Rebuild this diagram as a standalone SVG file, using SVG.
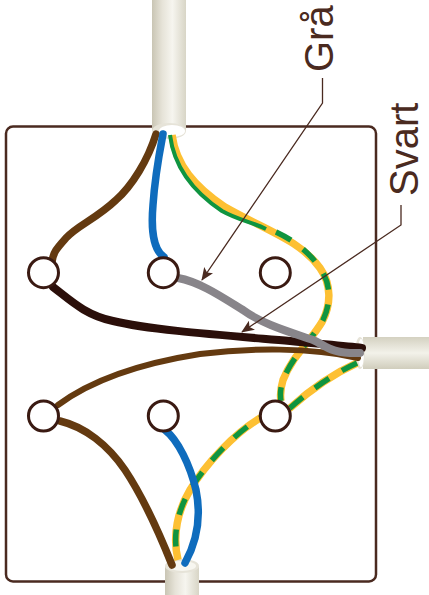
<svg xmlns="http://www.w3.org/2000/svg" width="429" height="595" viewBox="0 0 429 595">
<defs>
<linearGradient id="cv" x1="0" x2="1" y1="0" y2="0"><stop offset="0" stop-color="#c9c5b4"/><stop offset="0.3" stop-color="#e6e3d8"/><stop offset="0.6" stop-color="#f6f5ef"/><stop offset="1" stop-color="#d8d5c6"/></linearGradient>
<linearGradient id="ch" x1="0" x2="0" y1="0" y2="1"><stop offset="0" stop-color="#d4d1c1"/><stop offset="0.5" stop-color="#f3f2ea"/><stop offset="1" stop-color="#d0cdbc"/></linearGradient>
<marker id="arr" markerWidth="13" markerHeight="11" refX="12" refY="5.500" orient="auto" markerUnits="userSpaceOnUse"><path d="M0 0 L13 5.500 L0 11 L3 5.500 Z" fill="#4a2a20"/></marker>
</defs>
<style>
.w{fill:none;stroke-linejoin:round}
.r{stroke-linecap:round}
.b{stroke:#643a10;stroke-width:7.500}
.u{stroke:#0f6cbd;stroke-width:7.500}
.term{fill:#fff;stroke:#3a1a12;stroke-width:3}
.lbl{font-family:"Liberation Sans",Arial,sans-serif;font-size:40px;fill:#4a2a20}
.lead{fill:none;stroke:#4a2a20;stroke-width:1.300}
.y{stroke:#fdc033;stroke-width:7.500}
.g{stroke:#0f9440;stroke-width:5.500;stroke-dasharray:17 15}
.gs{stroke:#0f9440;stroke-width:4}
</style>
<rect id="box" x="6" y="126.500" width="370" height="455" rx="7" fill="#fff" stroke="#4a2a20" stroke-width="2.500"/>
<g id="cable-top"><path d="M152 0H186V131H152Z" fill="url(#cv)"/><ellipse cx="169" cy="131" rx="17" ry="8" fill="#e6e3d8"/><ellipse cx="172" cy="131" rx="13" ry="6" fill="#fff"/></g>
<g id="cable-right"><path d="M429 337H363V369H429Z" fill="url(#ch)"/><ellipse cx="360" cy="353" rx="5" ry="16" fill="#e6e3d8"/><ellipse cx="361" cy="353" rx="3" ry="14" fill="#fff"/></g>
<g id="cable-bottom"><path d="M165 566H199V595H165Z" fill="url(#cv)"/><ellipse cx="182" cy="566" rx="17" ry="7" fill="#e6e3d8"/><ellipse cx="182" cy="566" rx="14" ry="5" fill="#f7f6f0"/></g>
<g id="connectors">
<path class="w r b" d="M156 134C148 160 132 186 116 200C96 219 78 225 66 238C58 247 53 252 52 262"/>
<path class="w r u" d="M163 134C159 155 155 175 153 205C151 228 153 250 164 257"/>
<path class="w y" d="M172 135C176 165 195 187 225 207C265 230 300 240 320 268C332 285 331 305 322 322C310 342 293 355 283 380C280 390 280 395 281 401"/>
<path class="w gs" d="M170 135C174 167 192 191 222 211C238 220 252 222 266 229"/>
<path class="w g" d="M276 232C295 241 309 252 320 268C332 285 331 305 322 322C310 342 293 355 283 380C280 390 280 395 281 401"/>
<path class="w y" d="M357 363C335 373 310 390 290 408L262 417C235 432 205 465 190 490C178 510 172 535 178 560"/>
<path class="w g" d="M357 363C335 373 310 390 290 408L262 417C235 432 205 465 190 490C178 510 172 535 178 560"/>
<path class="w r u" d="M165 430C178 440 190 465 196 490C202 520 195 545 185 563"/>
<path class="w r b" d="M60 421C85 427 108 445 125 470C145 500 160 535 172 565"/>
<path class="w r" stroke="#2b0f0a" stroke-width="8" d="M53 287C70 300 85 315 113 321C150 330 220 335 290 341C320 344 345 346 362 348"/>
<path class="w r" stroke="#643a10" stroke-width="6" d="M58 405C85 385 130 365 200 354C250 348 310 347 358 358"/>
<path class="w r" stroke="#88858a" stroke-width="8" d="M178 278C200 282 222 297 243 310C262 324 290 332 313 340C325 345 330 354 360 353"/>
</g>
<g id="terminals">
<circle id="t1" class="term" cx="43.500" cy="272.700" r="15"/>
<circle id="t2" class="term" cx="163.300" cy="272.700" r="15"/>
<circle id="t3" class="term" cx="275.300" cy="272.700" r="15"/>
<circle id="t4" class="term" cx="43.500" cy="416" r="15"/>
<circle id="t5" class="term" cx="163.300" cy="416" r="15"/>
<circle id="t6" class="term" cx="275.300" cy="416" r="15"/>
</g>
<g id="label-gra"><path class="lead" marker-end="url(#arr)" d="M322.500 78V103L202 280"/><text class="lbl" transform="translate(333 72) rotate(-90)">Grå</text></g>
<g id="label-svart"><path class="lead" marker-end="url(#arr)" d="M401 205V225L242 332"/><text class="lbl" transform="translate(418 196) rotate(-90)">Svart</text></g>
</svg>
